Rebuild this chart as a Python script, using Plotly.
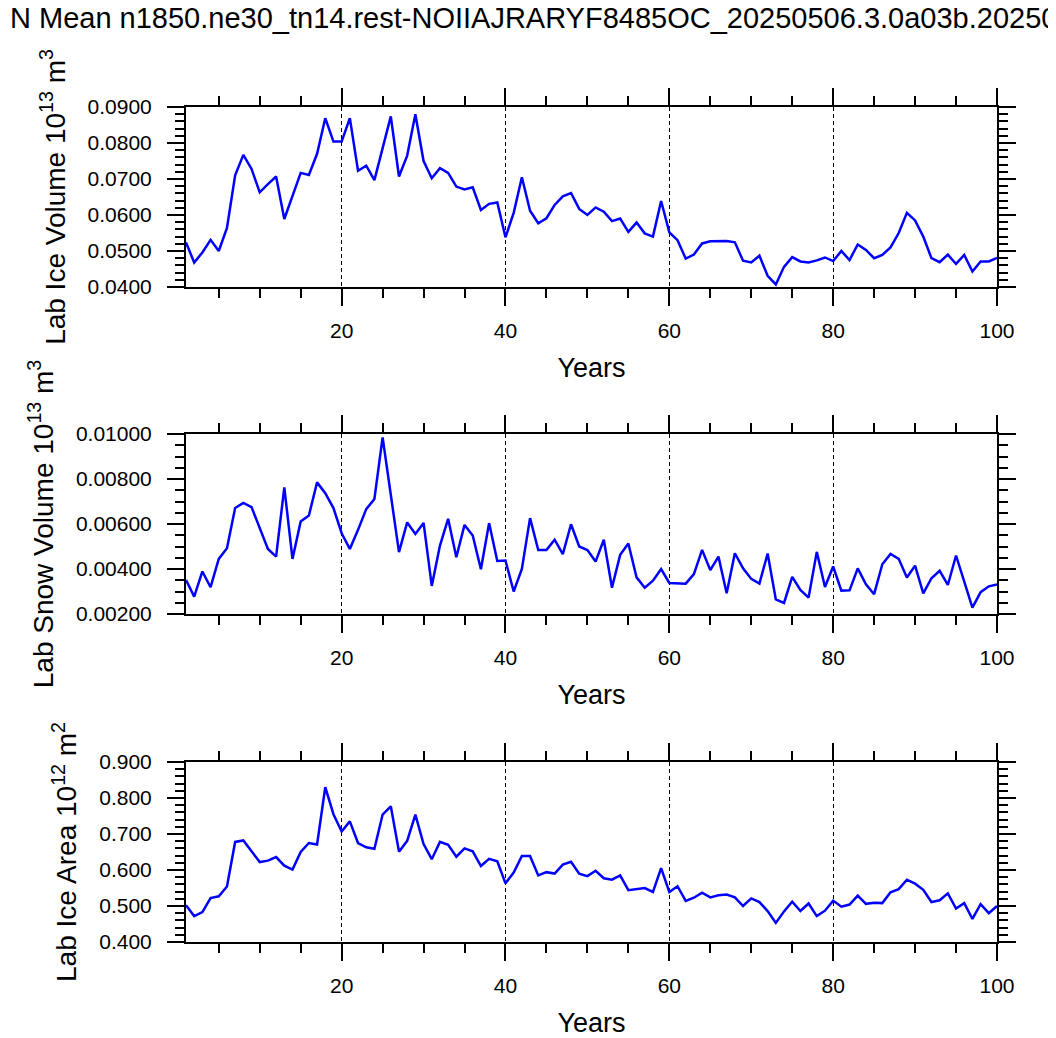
import plotly.graph_objects as go

years = list(range(1, 101))

ice_volume = [
    0.0524, 0.0468, 0.0496, 0.0531, 0.0500, 0.0564, 0.0710, 0.0767, 0.0728, 0.0663,
    0.0686, 0.0707, 0.0589, 0.0654, 0.0717, 0.0711, 0.0770, 0.0869, 0.0804, 0.0804,
    0.0869, 0.0723, 0.0737, 0.0697, 0.0784, 0.0874, 0.0707, 0.0765, 0.0880, 0.0750,
    0.0702, 0.0730, 0.0717, 0.0679, 0.0671, 0.0677, 0.0614, 0.0631, 0.0635, 0.0538,
    0.0606, 0.0705, 0.0612, 0.0577, 0.0591, 0.0628, 0.0652, 0.0661, 0.0617, 0.0600,
    0.0621, 0.0609, 0.0583, 0.0590, 0.0553, 0.0579, 0.0549, 0.0540, 0.0639, 0.0552,
    0.0530, 0.0479, 0.0490, 0.0521, 0.0527, 0.0527, 0.0528, 0.0524, 0.0473, 0.0468,
    0.0487, 0.0431, 0.0407, 0.0456, 0.0483, 0.0471, 0.0468, 0.0474, 0.0482, 0.0472,
    0.0500, 0.0475, 0.0518, 0.0503, 0.0480, 0.0489, 0.0510, 0.0550, 0.0606, 0.0585,
    0.0540, 0.0480, 0.0469, 0.0490, 0.0464, 0.0489, 0.0443, 0.0471, 0.0471, 0.0481,
]

snow_volume = [
    0.00351, 0.00277, 0.00389, 0.00319, 0.00445, 0.00492, 0.00671, 0.00694, 0.00675, 0.00579,
    0.00489, 0.00455, 0.00763, 0.00445, 0.00611, 0.00638, 0.00785, 0.00737, 0.00671, 0.00559,
    0.00489, 0.00574, 0.00666, 0.00711, 0.00985, 0.00730, 0.00475, 0.00607, 0.00556, 0.00605,
    0.00325, 0.00504, 0.00623, 0.00452, 0.00596, 0.00549, 0.00399, 0.00604, 0.00436, 0.00438,
    0.00300, 0.00400, 0.00626, 0.00484, 0.00484, 0.00530, 0.00466, 0.00599, 0.00500, 0.00484,
    0.00433, 0.00530, 0.00317, 0.00463, 0.00513, 0.00363, 0.00317, 0.00348, 0.00400, 0.00338,
    0.00335, 0.00335, 0.00377, 0.00485, 0.00395, 0.00455, 0.00292, 0.00470, 0.00403, 0.00356,
    0.00335, 0.00469, 0.00265, 0.00249, 0.00365, 0.00307, 0.00273, 0.00476, 0.00320, 0.00411,
    0.00304, 0.00305, 0.00403, 0.00332, 0.00288, 0.00421, 0.00467, 0.00445, 0.00362, 0.00415,
    0.00292, 0.00359, 0.00392, 0.00329, 0.00460, 0.00344, 0.00228, 0.00297, 0.00323, 0.00331,
]

ice_area = [
    0.502, 0.472, 0.483, 0.522, 0.527, 0.554, 0.678, 0.682, 0.652, 0.622,
    0.626, 0.636, 0.612, 0.601, 0.650, 0.675, 0.671, 0.830, 0.755, 0.707,
    0.735, 0.675, 0.663, 0.659, 0.754, 0.777, 0.651, 0.681, 0.754, 0.672,
    0.630, 0.678, 0.670, 0.637, 0.660, 0.652, 0.611, 0.631, 0.624, 0.563,
    0.593, 0.639, 0.639, 0.585, 0.594, 0.590, 0.615, 0.623, 0.590, 0.583,
    0.598, 0.577, 0.573, 0.585, 0.544, 0.548, 0.550, 0.539, 0.605, 0.539,
    0.555, 0.514, 0.523, 0.537, 0.524, 0.530, 0.532, 0.524, 0.500, 0.521,
    0.511, 0.486, 0.453, 0.485, 0.512, 0.486, 0.507, 0.472, 0.487, 0.515,
    0.498, 0.504, 0.529, 0.506, 0.509, 0.508, 0.538, 0.547, 0.573, 0.562,
    0.545, 0.511, 0.516, 0.535, 0.493, 0.508, 0.464, 0.505, 0.480, 0.500,
]

title_text = "N Mean n1850.ne30_tn14.rest-NOIIAJRARYF8485OC_20250506.3.0a03b.202505"
x_title = "Years"
y_titles = [
    "Lab Ice Volume 10<sup>13</sup> m<sup>3</sup>",
    "Lab Snow Volume 10<sup>13</sup> m<sup>3</sup>",
    "Lab Ice Area 10<sup>12</sup> m<sup>2</sup>",
]
y_ranges = [[0.04, 0.09], [0.002, 0.01], [0.4, 0.9]]
y_dticks = [0.01, 0.002, 0.1]
y_minor = [0.002, 0.0005, 0.02]
y_formats = [".4f", ".5f", ".3f"]
series = [ice_volume, snow_volume, ice_area]

# page body has an 8px margin; compensate so the figure lands where the reference is
OFF = 8
W, H = 1056 - OFF, 1038 - OFF
ML, MT = 186 - OFF, 107 - OFF
MR = W - (997 - OFF)
MB = H - (942 - OFF)
plot_h = H - MT - MB
panel_px = [(107 - OFF, 287 - OFF), (434 - OFF, 614 - OFF), (762 - OFF, 942 - OFF)]
domains = [[(H - MB - b) / plot_h, (H - MB - t) / plot_h] for t, b in panel_px]

FONT = "Liberation Sans, Arial, Helvetica, sans-serif"

fig = go.Figure()
layout = dict(
    width=W, height=H,
    margin=dict(l=ML, r=MR, t=MT, b=MB, autoexpand=False),
    paper_bgcolor="white", plot_bgcolor="white",
    showlegend=False,
    font=dict(family=FONT, color="black"),
)

for i in range(3):
    n = "" if i == 0 else str(i + 1)
    fig.add_trace(go.Scatter(
        x=years, y=series[i], mode="lines",
        line=dict(color="#0000FF", width=2.5),
        xaxis="x" + n, yaxis="y" + n, hoverinfo="skip",
    ))
    layout["xaxis" + n] = dict(
        domain=[0, 1], anchor="y" + n, range=[1, 100],
        tick0=0, dtick=20, ticks="outside", ticklen=17, tickwidth=2,
        tickcolor="black",
        minor=dict(tick0=0, dtick=5, ticks="outside", ticklen=9, tickwidth=1.5,
                   tickcolor="black", showgrid=False),
        showline=True, linecolor="black", linewidth=2, mirror="ticks",
        showgrid=True, gridcolor="black", gridwidth=1, griddash="4px,3px",
        zeroline=False,
        tickfont=dict(size=21, family=FONT),
        ticklabelstandoff=7,
        title=dict(text=x_title, font=dict(size=27, family=FONT), standoff=17),
        automargin=False,
    )
    layout["yaxis" + n] = dict(
        domain=domains[i], anchor="x" + n, range=y_ranges[i],
        tick0=0, dtick=y_dticks[i], tickformat=y_formats[i],
        ticks="outside", ticklen=17, tickwidth=2, tickcolor="black",
        minor=dict(tick0=0, dtick=y_minor[i], ticks="outside", ticklen=9,
                   tickwidth=1.5, tickcolor="black", showgrid=False),
        showline=True, linecolor="black", linewidth=2, mirror="ticks",
        showgrid=False, zeroline=False,
        tickfont=dict(size=21, family=FONT),
        ticklabelstandoff=11,
        title=dict(text=y_titles[i], font=dict(size=28, family=FONT), standoff=14),
        automargin=False,
    )

layout["annotations"] = [dict(
    text=title_text, xref="paper", yref="paper",
    x=(0 - ML) / (W - ML - MR), y=(H - MB - (18 - OFF)) / plot_h,
    xanchor="left", yanchor="middle", showarrow=False,
    font=dict(size=29, family=FONT, color="black"),
)]

fig.update_layout(**layout)
fig.write_html("out.html")
